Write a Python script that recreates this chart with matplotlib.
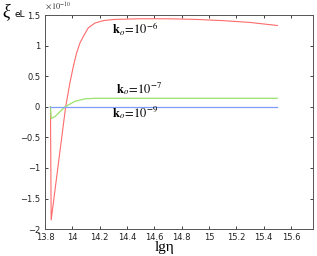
import matplotlib
matplotlib.use("Agg")
import matplotlib.pyplot as plt

# values in units of 1e-10
lg_eta_red = [13.84, 13.845, 13.951, 13.982, 14.007, 14.031, 14.055, 14.08,
              14.116, 14.165, 14.226, 14.31, 14.5, 14.7, 14.9, 15.1, 15.3, 15.5]
xi_red = [0.0, -1.85, 0.0, 0.39, 0.66, 0.88, 1.04, 1.15,
          1.29, 1.37, 1.41, 1.43, 1.44, 1.44, 1.43, 1.41, 1.38, 1.33]

lg_eta_green = [13.84, 13.845, 13.873, 13.909, 13.946, 14.019, 14.092, 14.165,
                14.3, 14.6, 15.0, 15.5]
xi_green = [0.0, -0.19, -0.16, -0.08, 0.0, 0.09, 0.13, 0.14,
            0.14, 0.14, 0.14, 0.14]

lg_eta_blue = [13.84, 15.5]
xi_blue = [0.0, 0.0]

xticks = [13.8, 14.0, 14.2, 14.4, 14.6, 14.8, 15.0, 15.2, 15.4, 15.6]
xtick_labels = ["13.8", "14", "14.2", "14.4", "14.6", "14.8", "15", "15.2", "15.4", "15.6"]
yticks = [-2, -1.5, -1, -0.5, 0, 0.5, 1, 1.5]
ytick_labels = ["\u22122", "\u22121.5", "\u22121", "\u22120.5", "0", "0.5", "1", "1.5"]

plt.rcParams["mathtext.fontset"] = "stix"

fig = plt.figure(figsize=(3.17, 2.56), dpi=100)
ax = fig.add_axes([0.142, 0.105, 0.845, 0.836])

ax.plot(lg_eta_red, xi_red, color="#ff6b6b", lw=0.8)
ax.plot(lg_eta_green, xi_green, color="#9be36a", lw=0.9)
ax.plot(lg_eta_blue, xi_blue, color="#7f9cff", lw=0.9)

ax.set_xlim(13.8, 15.76)
ax.set_ylim(-2, 1.5)
ax.set_xticks(xticks)
ax.set_xticklabels(xtick_labels)
ax.set_yticks(yticks)
ax.set_yticklabels(ytick_labels)
ax.tick_params(direction="in", length=2.5, width=0.6, labelsize=6,
               top=True, right=True, pad=2.5, colors="#222222")
ax.tick_params(axis="y", pad=3.5)
for s in ax.spines.values():
    s.set_linewidth(0.7)
    s.set_color("#555555")

ax.text(14.29, 1.27, r"$\mathbf{k}_o\!=\!10^{-6}$", fontsize=9, va="center")
ax.text(14.32, 0.30, r"$\mathbf{k}_o\!=\!10^{-7}$", fontsize=9, va="center")
ax.text(14.29, -0.10, r"$\mathbf{k}_o\!=\!10^{-9}$", fontsize=9, va="center")

fig.text(0.008, 0.955, "\u03be", fontsize=13, va="center", ha="left",
         family="Liberation Serif", style="italic")
fig.text(0.045, 0.945, "eL", fontsize=6.5, va="center", ha="left",
         family="DejaVu Sans")
fig.text(0.142, 0.975, r"$\times\,10^{-10}$", fontsize=6, va="center", ha="left",
         family="DejaVu Sans", color="#333333")
fig.text(0.52, 0.035, "lg\u03b7", fontsize=11, va="center", ha="center",
         family="Liberation Serif")

fig.savefig("out.png", dpi=100)
